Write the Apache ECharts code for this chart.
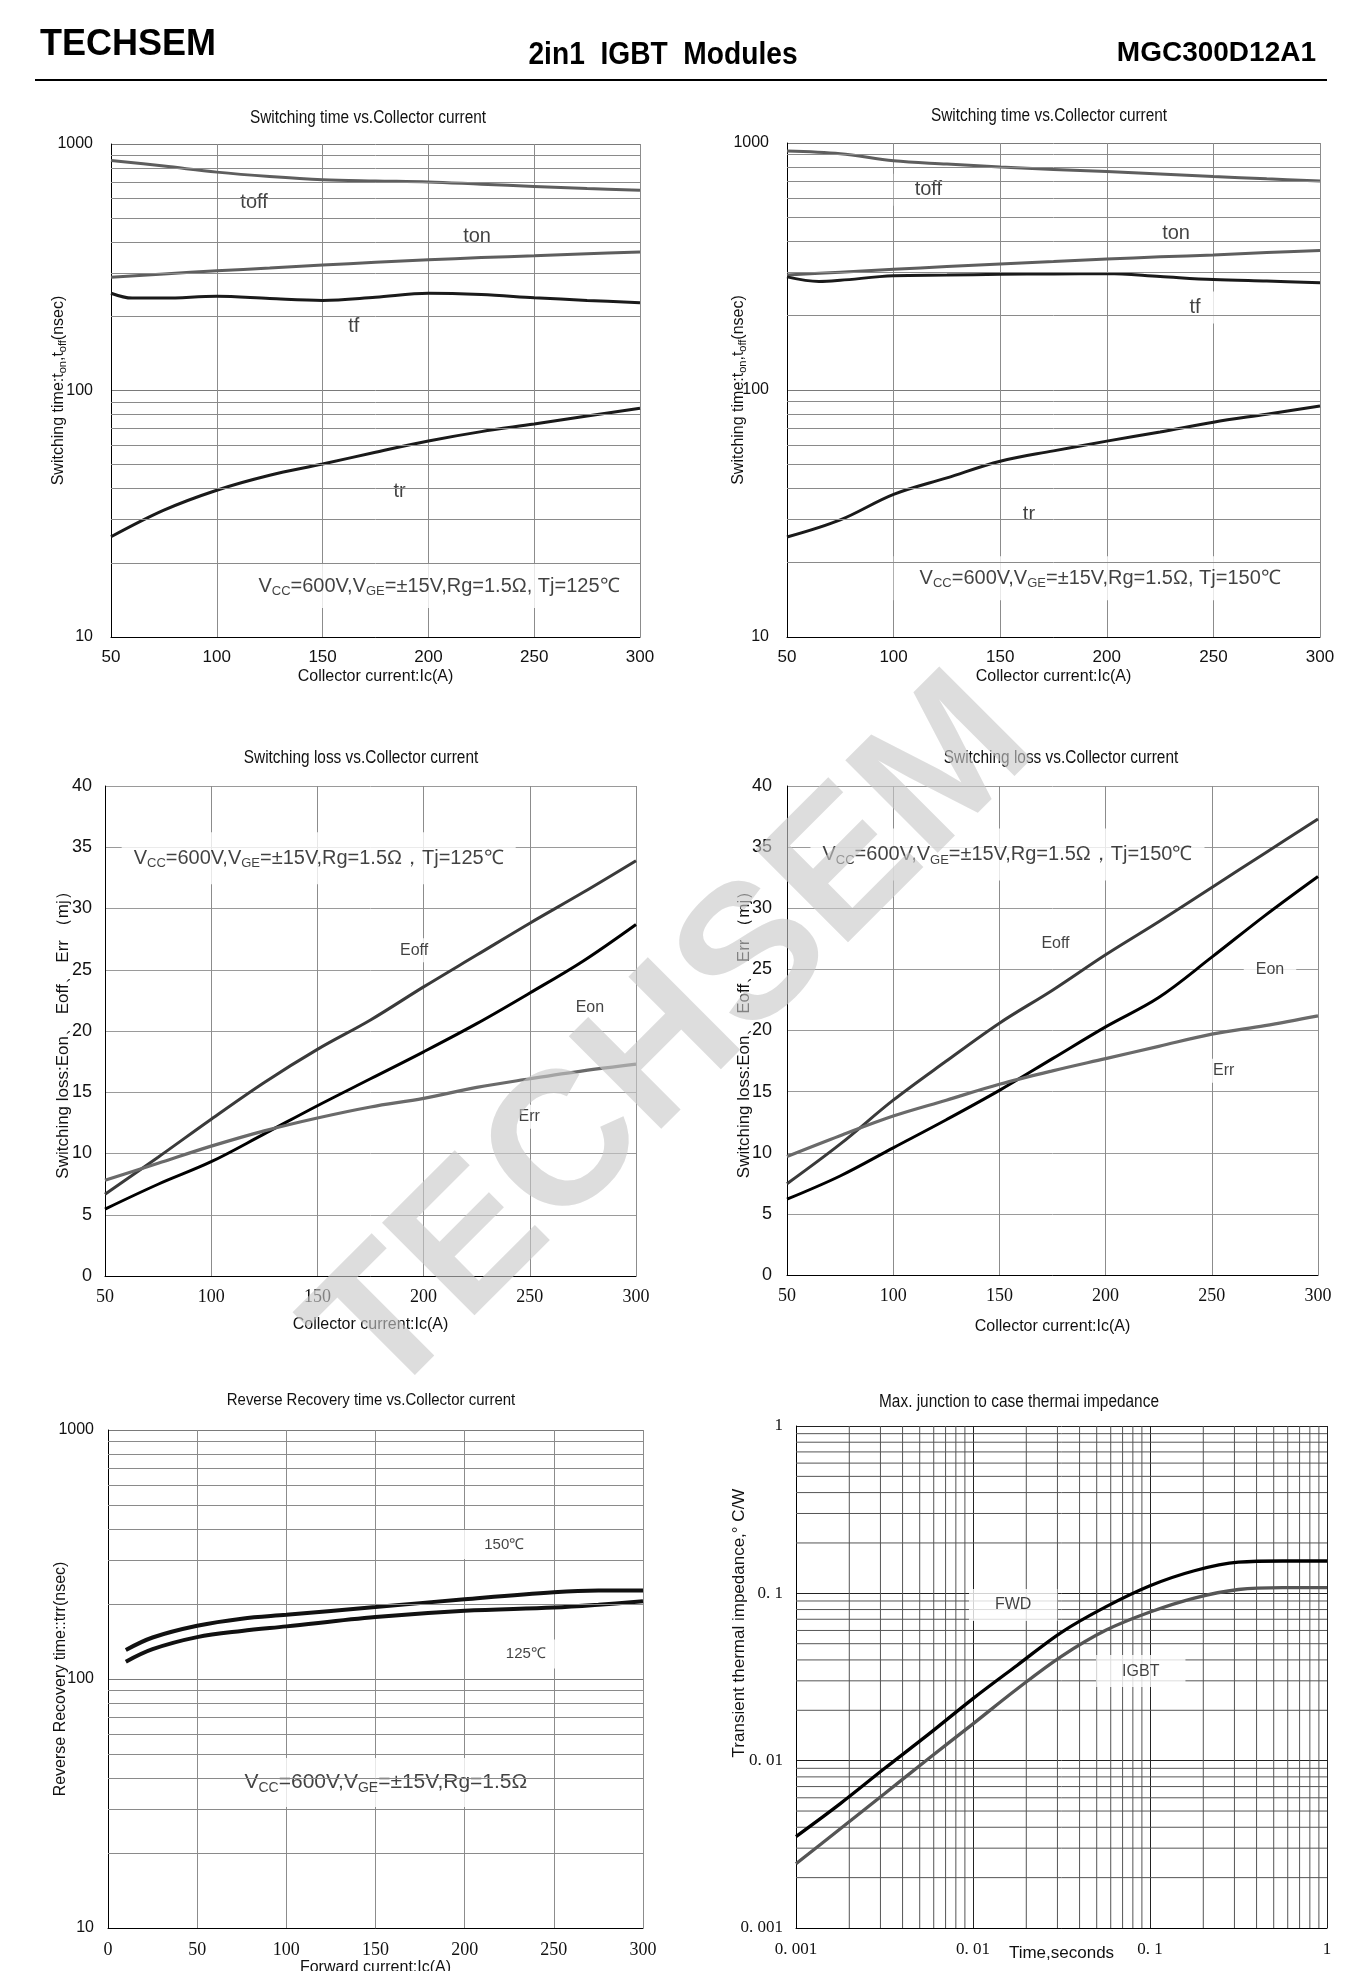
<!DOCTYPE html>
<html>
<head>
<meta charset="utf-8">
<script src="https://cdn.jsdelivr.net/npm/echarts@6/dist/echarts.min.js"></script>
<style>html,body{margin:0;padding:0;background:#fff}#c{width:1351px;height:1971px}</style>
</head>
<body>
<div id="c"></div>
<script>
const SANS = "'Liberation Sans', Arial, sans-serif";
const SERIF = "'Liberation Serif', 'Times New Roman', serif";

// ---------------- DATA ----------------
const icX = [50, 75, 100, 125, 150, 175, 200, 225, 250, 275, 300];
const toff125 = [857, 814, 769, 738, 716, 708, 702, 687, 673, 660, 649];
const ton125 = [288, 297, 306, 314, 323, 331, 339, 346, 352, 359, 365];
const tfX125 = [50, 60, 75, 100, 125, 150, 175, 200, 225, 250, 275, 300];
const tf125 = [248, 237, 237, 241, 236, 232, 239, 248, 245, 238, 232, 227];
const tr125 = [25.5, 32.7, 39.4, 45.3, 50.3, 56.2, 62.4, 68.1, 73.1, 78.8, 84.7];

const toff150 = [928, 905, 847, 822, 799, 782, 766, 749, 732, 716, 702];
const ton150 = [292, 300, 308, 316, 324, 331, 339, 346, 352, 360, 367];
const tfX150 = [50, 65, 75, 100, 125, 150, 175, 200, 225, 250, 275, 300];
const tf150 = [287, 275, 278, 290, 292, 294, 295, 296, 288, 280, 276, 272];
const tr150 = [25.4, 29.8, 37.8, 44.1, 51.5, 56.7, 62.1, 67.6, 74.1, 79.8, 86.1];

const eoff125 = [6.68, 9.7, 12.8, 15.8, 18.5, 20.9, 23.6, 26.2, 28.8, 31.3, 33.9];
const eon125 = [5.46, 7.49, 9.33, 11.6, 13.9, 16.1, 18.3, 20.6, 23.1, 25.7, 28.7];
const err125 = [7.81, 9.2, 10.6, 11.85, 12.9, 13.8, 14.5, 15.4, 16.1, 16.75, 17.3];

const eoff150 = [7.46, 10.7, 14.3, 17.5, 20.6, 23.3, 26.2, 28.9, 31.7, 34.5, 37.3];
const eon150 = [6.2, 8.1, 10.4, 12.7, 15.1, 17.7, 20.3, 22.7, 26.0, 29.4, 32.6];
const err150 = [9.7, 11.4, 13.0, 14.3, 15.6, 16.7, 17.7, 18.7, 19.7, 20.4, 21.2];

const ifX = [10, 25, 50, 75, 100, 150, 200, 250, 275, 300];
const trr150 = [130.8, 146.8, 163.6, 174.7, 181, 194.5, 209, 223, 226.5, 226.5];
const trr125 = [117.4, 131.8, 147.3, 156, 162.7, 177.4, 188, 193.5, 198.6, 205.3];

const timeX = [0.001, 0.00178, 0.00316, 0.00562, 0.01, 0.0178, 0.0316, 0.0562, 0.1, 0.178, 0.316, 0.562, 1];
const zthFWD = [0.00352, 0.00554, 0.00897, 0.0144, 0.0235, 0.0372, 0.0585, 0.083, 0.111, 0.1365, 0.1535, 0.156, 0.156];
const zthIGBT = [0.00242, 0.00392, 0.00634, 0.0103, 0.0166, 0.0269, 0.042, 0.0601, 0.0773, 0.0937, 0.1054, 0.1083, 0.1083];

// Tick labels
const icTicks = ['50', '100', '150', '200', '250', '300'];
const ifTicks = ['0', '50', '100', '150', '200', '250', '300'];
const nsTicks = ['10', '100', '1000'];
const mjTicks = ['0', '5', '10', '15', '20', '25', '30', '35', '40'];
const zthTicks = ['0. 001', '0. 01', '0. 1', '1'];

// Minor log grid values
const minorNs = [20, 30, 40, 50, 60, 70, 80, 90, 200, 300, 400, 500, 600, 700, 800, 900];
const minorZth = [0.002, 0.003, 0.004, 0.005, 0.006, 0.007, 0.008, 0.009,
                  0.02, 0.03, 0.04, 0.05, 0.06, 0.07, 0.08, 0.09,
                  0.2, 0.3, 0.4, 0.5, 0.6, 0.7, 0.8, 0.9];

// Annotations [x, y, text]
const labels1 = [[117.6, 581, 'toff'], [223, 422, 'ton'], [164.7, 181, 'tf'], [186.4, 39.1, 'tr']];
const labels2 = [[116.3, 646, 'toff'], [232.5, 430, 'ton'], [241.4, 216, 'tf'], [163.5, 31.3, 'tr']];
const labels3 = [[195.5, 26.6, 'Eoff'], [278.3, 21.9, 'Eon'], [249.7, 13.0, 'Err']];
const labels4 = [[176.4, 27.1, 'Eoff'], [277.4, 25.0, 'Eon'], [255.6, 16.7, 'Err']];
const labels5 = [[222.2, 347, '150℃'], [234.3, 126, '125℃']];
const labels6 = [[0.01687, 0.0851, 'FWD'], [0.0887, 0.0343, 'IGBT']];
const cond1 = [205, 16.1, '{n|V}{s|CC}{n|=600V,V}{s|GE}{n|=±15V,Rg=1.5Ω, Tj=125℃}'];
const cond2 = [196.9, 17.3, '{n|V}{s|CC}{n|=600V,V}{s|GE}{n|=±15V,Rg=1.5Ω, Tj=150℃}'];
const cond3 = [150.6, 34.1, '{n|V}{s|CC}{n|=600V,V}{s|GE}{n|=±15V,Rg=1.5Ω，Tj=125℃}'];
const cond4 = [153.8, 34.4, '{n|V}{s|CC}{n|=600V,V}{s|GE}{n|=±15V,Rg=1.5Ω，Tj=150℃}'];
const cond5 = [155.8, 38.4, '{n|V}{s|CC}{n|=600V,V}{s|GE}{n|=±15V,Rg=1.5Ω}'];

// ---------------- LAYOUT ----------------
const gridBox = [
  [111, 144, 529, 493],
  [787, 143, 533, 494],
  [105, 786, 531, 490],
  [787, 786, 531, 489],
  [108, 1430, 535, 498],
  [796, 1426, 531, 502]
];
const grids = gridBox.map(b => ({left: b[0], top: b[1], width: b[2], height: b[3],
  containLabel: false, outerBoundsMode: 'none'}));

const AXLINE = {show: true, onZero: false, lineStyle: {color: '#000', width: 1}};
function gridSplit(color) { return {show: true, lineStyle: {color: color, width: 1, type: 'solid'}}; }

function icAxis(i, serif, nameGap, labelSize) {
  return {
    gridIndex: i, type: 'value', min: 50, max: 300, interval: 50,
    axisLine: AXLINE, axisTick: {show: false}, splitLine: gridSplit('#8c8c8c'),
    axisLabel: {margin: 12, fontSize: labelSize, color: '#111', fontFamily: serif ? SERIF : SANS,
      formatter: v => icTicks[Math.round((v - 50) / 50)]},
    name: 'Collector current:Ic(A)', nameLocation: 'middle', nameGap: nameGap, nameMoveOverlap: false,
    nameTextStyle: {fontSize: 16, color: '#111', fontFamily: SANS}
  };
}
function nsAxis(i, name, nameGap, margin, rich) {
  return {
    gridIndex: i, type: 'log', logBase: 10, min: 10, max: 1000,
    axisLine: AXLINE, axisTick: {show: false}, splitLine: gridSplit('#7a7a7a'),
    axisLabel: {margin: margin, fontSize: 16, color: '#111', fontFamily: SANS,
      formatter: v => nsTicks[Math.round(Math.log10(v)) - 1]},
    name: name, nameLocation: 'middle', nameGap: nameGap, nameRotate: 90, nameMoveOverlap: false,
    nameTextStyle: {fontSize: 16, color: '#111', fontFamily: SANS, rich: rich || {}}
  };
}
function mjAxis(i, nameGap, margin) {
  return {
    gridIndex: i, type: 'value', min: 0, max: 40, interval: 5,
    axisLine: AXLINE, axisTick: {show: false}, splitLine: gridSplit('#9a9a9a'),
    axisLabel: {margin: margin, fontSize: 18, color: '#111', fontFamily: SANS,
      formatter: v => mjTicks[Math.round(v / 5)]},
    name: 'Switching loss:Eon、 Eoff、 Err （mj）', nameLocation: 'middle', nameGap: nameGap, nameRotate: 90,
    nameMoveOverlap: false,
    nameTextStyle: {fontSize: 17, color: '#111', fontFamily: SANS}
  };
}

const subRich = {s: {fontSize: 11, padding: [7, 0, 0, 0], fontFamily: SANS, color: '#111'}};

const xAxes = [
  icAxis(0, false, 32, 17),
  icAxis(1, false, 32, 17),
  icAxis(2, true, 41, 18),
  icAxis(3, true, 44, 18),
  {
    gridIndex: 4, type: 'value', min: 0, max: 300, interval: 50,
    axisLine: AXLINE, axisTick: {show: false}, splitLine: gridSplit('#8c8c8c'),
    axisLabel: {margin: 13, fontSize: 18, color: '#111', fontFamily: SERIF,
      formatter: v => ifTicks[Math.round(v / 50)]},
    name: 'Forward current:Ic(A)', nameLocation: 'middle', nameGap: 32, nameMoveOverlap: false,
    nameTextStyle: {fontSize: 16, color: '#111', fontFamily: SANS}
  },
  {
    gridIndex: 5, type: 'log', logBase: 10, min: 0.001, max: 1,
    axisLine: AXLINE, axisTick: {show: false}, splitLine: gridSplit('#222'),
    axisLabel: {margin: 13, fontSize: 17, color: '#111', fontFamily: SERIF,
      formatter: v => zthTicks[Math.round(Math.log10(v)) + 3]},
    name: 'Time,seconds', nameLocation: 'middle', nameGap: 17, nameMoveOverlap: false,
    nameTextStyle: {fontSize: 17, color: '#111', fontFamily: SANS}
  }
];
const yAxes = [
  nsAxis(0, 'Switching time:t{s|on},t{s|off}(nsec)', 43, 18, subRich),
  nsAxis(1, 'Switching time:t{s|on},t{s|off}(nsec)', 39, 18, subRich),
  mjAxis(2, 33, 13),
  mjAxis(3, 34, 15),
  nsAxis(4, 'Reverse Recovery time::trr(nsec)', 39, 14),
  {
    gridIndex: 5, type: 'log', logBase: 10, min: 0.001, max: 1,
    axisLine: AXLINE, axisTick: {show: false}, splitLine: gridSplit('#222'),
    axisLabel: {margin: 13, fontSize: 17, color: '#111', fontFamily: SERIF,
      formatter: v => zthTicks[Math.round(Math.log10(v)) + 3]}
  }
];

// ---------------- SERIES ----------------
const series = [];
function curve(i, xs, ys, color, width) {
  series.push({
    type: 'line', xAxisIndex: i, yAxisIndex: i, silent: true, z: 3,
    data: xs.map((x, k) => [x, ys[k]]), symbol: 'none', showSymbol: false,
    smooth: 0.35, lineStyle: {color: color, width: width}
  });
}
function minorGrid(i, vals, color) {
  series.push({
    type: 'line', xAxisIndex: i, yAxisIndex: i, data: [], z: 0, silent: true,
    markLine: {silent: true, precision: 8, symbol: ['none', 'none'], label: {show: false},
      lineStyle: {color: color, width: 1, type: 'solid'}, emphasis: {disabled: true},
      data: vals.map(v => ({yAxis: v}))}
  });
}
// straight grid rules drawn as two-point line series through the axes
function ruleLine(i, p1, p2, color) {
  series.push({
    type: 'line', xAxisIndex: i, yAxisIndex: i, silent: true, z: 0,
    data: [p1, p2], symbol: 'none', showSymbol: false,
    lineStyle: {color: color, width: 1}
  });
}
function texts(i, items, style) {
  series.push({
    type: 'scatter', xAxisIndex: i, yAxisIndex: i, symbolSize: 0, z: 1, silent: true,
    data: items.map(t => ({value: [t[0], t[1]], name: t[2]})),
    label: Object.assign({show: true, position: 'inside', formatter: p => p.name,
      color: '#111', fontFamily: SANS, backgroundColor: '#fff'}, style)
  });
}
function cond(i, c, nSize, pad) {
  texts(i, [c], {padding: pad, rich: {
    n: {fontSize: nSize, fontFamily: SANS, color: '#111'},
    s: {fontSize: Math.round(nSize * 0.65), fontFamily: SANS, color: '#111', padding: [11, 0, 0, 0]}
  }});
}

// chart 1
minorGrid(0, minorNs, '#8a8a8a');
texts(0, labels1, {fontSize: 20, padding: [6, 21]});
cond(0, cond1, 20, [10, 10]);
curve(0, icX, toff125, '#5e5e5e', 3);
curve(0, icX, ton125, '#5e5e5e', 3);
curve(0, tfX125, tf125, '#1a1a1a', 3);
curve(0, icX, tr125, '#1a1a1a', 3);
// chart 2
minorGrid(1, minorNs, '#8a8a8a');
texts(1, labels2, {fontSize: 20, padding: [6, 21]});
cond(1, cond2, 20, [10, 26]);
curve(1, icX, toff150, '#5e5e5e', 3);
curve(1, icX, ton150, '#5e5e5e', 3);
curve(1, tfX150, tf150, '#1a1a1a', 3);
curve(1, icX, tr150, '#1a1a1a', 3);
// chart 3
texts(2, labels3, {fontSize: 16, padding: [4, 5]});
cond(2, cond3, 20, [14, 12]);
curve(2, icX, eoff125, '#3a3a3a', 3);
curve(2, icX, eon125, '#000', 3);
curve(2, icX, err125, '#6a6a6a', 3.2);
// chart 4
texts(3, labels4, {fontSize: 16, padding: [4, 12]});
cond(3, cond4, 20, [14, 12]);
curve(3, icX, eoff150, '#3a3a3a', 3);
curve(3, icX, eon150, '#000', 3);
curve(3, icX, err150, '#6a6a6a', 3.2);
// chart 5
minorGrid(4, minorNs, '#8a8a8a');
texts(4, labels5, {fontSize: 15, padding: [7, 22]});
cond(4, cond5, 21, [12, 26]);
curve(4, ifX, trr150, '#111', 4);
curve(4, ifX, trr125, '#111', 4);
// chart 6 (log-log minor grid in both directions)
minorZth.forEach(v => {
  ruleLine(5, [0.001, v], [1, v], '#555');
  ruleLine(5, [v, 0.001], [v, 1], '#555');
});
texts(5, labels6, {fontSize: 16, padding: [8, 26]});
curve(5, timeX, zthFWD, '#000', 3.3);
curve(5, timeX, zthIGBT, '#555', 3.3);

// ---------------- GRAPHIC TEXT ----------------
function gtext(x, y, text, size, opts) {
  opts = opts || {};
  return {
    type: 'text', x: x, y: y, z: opts.z || 50, silent: true,
    rotation: opts.rotation || 0, scaleX: opts.scaleX || 1,
    style: {
      text: text, fill: opts.fill || '#111',
      font: (opts.weight || 'normal') + ' ' + size + 'px ' + (opts.family || SANS),
      textAlign: opts.align || 'center', align: opts.align || 'center',
      textVerticalAlign: 'middle', verticalAlign: 'middle'
    }
  };
}
const graphics = [
  gtext(40, 45, 'TECHSEM', 36, {weight: 'bold', align: 'left', fill: '#000'}),
  gtext(663, 55, '2in1  IGBT  Modules', 32, {weight: 'bold', fill: '#000', scaleX: 0.88}),
  gtext(1316, 53, 'MGC300D12A1', 28, {weight: 'bold', align: 'right', fill: '#000'}),
  {type: 'line', silent: true, z: 50, shape: {x1: 35, y1: 80, x2: 1327, y2: 80}, style: {stroke: '#000', lineWidth: 2}},
  gtext(368, 118, 'Switching time vs.Collector current', 17.5, {scaleX: 0.88}),
  gtext(1049, 116, 'Switching time vs.Collector current', 17.5, {scaleX: 0.88}),
  gtext(361, 758, 'Switching loss vs.Collector current', 17.5, {scaleX: 0.88}),
  gtext(1061, 758, 'Switching loss vs.Collector current', 17.5, {scaleX: 0.88}),
  gtext(371, 1400, 'Reverse Recovery time vs.Collector current', 17, {scaleX: 0.88}),
  gtext(1019, 1402, 'Max. junction to case thermai impedance', 17.5, {scaleX: 0.88}),
  gtext(739, 1623, 'Transient thermal impedance,° C/W', 17, {rotation: Math.PI / 2}),
  gtext(675, 1041, 'TECHSEM', 190, {weight: 'bold', fill: 'rgba(200,200,200,0.62)', rotation: 0.785, z: 100})
];

const chart = echarts.init(document.getElementById('c'), null, {renderer: 'canvas'});
chart.setOption({
  animation: false,
  backgroundColor: '#fff',
  grid: grids,
  xAxis: xAxes,
  yAxis: yAxes,
  series: series,
  graphic: graphics
});
</script>
</body>
</html>
